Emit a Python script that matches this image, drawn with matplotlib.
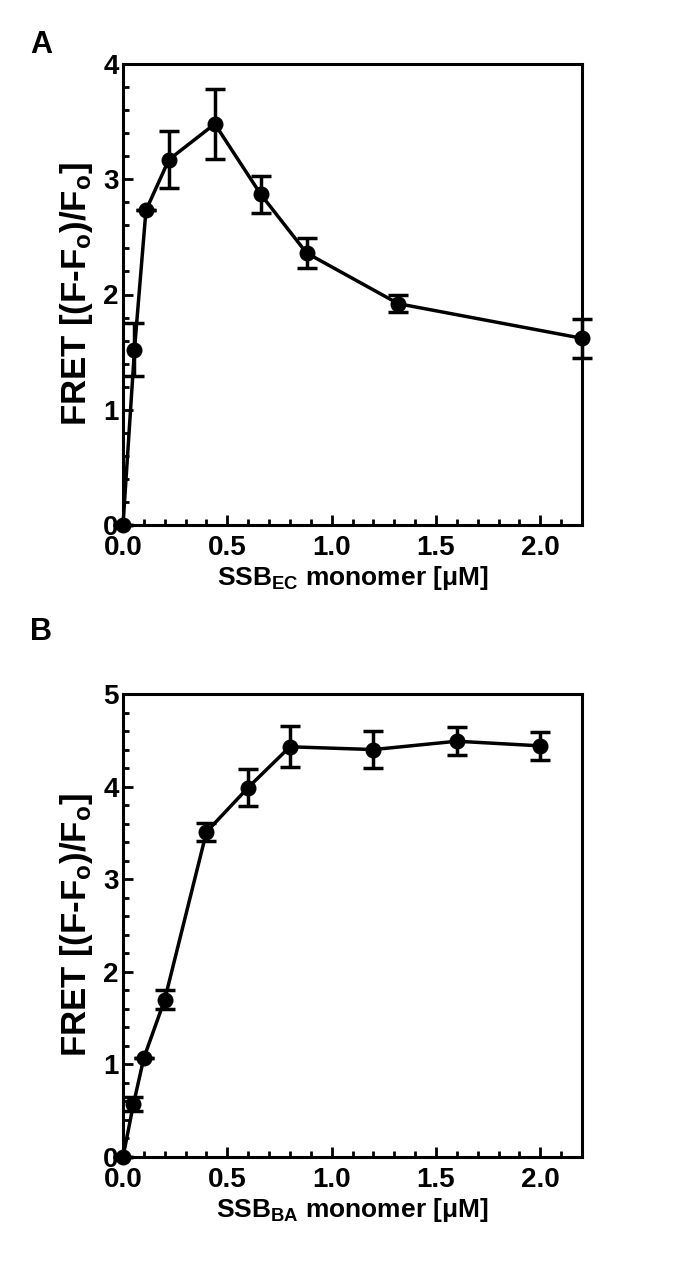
import numpy as np
import matplotlib
matplotlib.use("Agg")
import matplotlib.pyplot as plt
from matplotlib.ticker import MultipleLocator, FormatStrFormatter

# panel A: SSB_EC titration
conc_ec = [0.0, 0.055, 0.11, 0.22, 0.44, 0.66, 0.88, 1.32, 2.2]
fret_ec = [0.0, 1.52, 2.73, 3.17, 3.48, 2.87, 2.36, 1.92, 1.62]
err_ec = [0.0, 0.23, 0.0, 0.25, 0.30, 0.16, 0.13, 0.075, 0.17]

# panel B: SSB_BA titration
conc_ba = [0.0, 0.05, 0.1, 0.2, 0.4, 0.6, 0.8, 1.2, 1.6, 2.0]
fret_ba = [0.0, 0.57, 1.07, 1.70, 3.51, 3.99, 4.43, 4.40, 4.49, 4.44]
err_ba = [0.0, 0.075, 0.0, 0.10, 0.10, 0.20, 0.22, 0.20, 0.15, 0.15]

plt.rcParams['font.family'] = ['Liberation Sans', 'DejaVu Sans']
plt.rcParams['font.weight'] = 'bold'
plt.rcParams['mathtext.fontset'] = 'custom'
plt.rcParams['mathtext.rm'] = 'Liberation Sans:bold'
plt.rcParams['mathtext.it'] = 'Liberation Sans:bold'
plt.rcParams['mathtext.bf'] = 'Liberation Sans:bold'
plt.rcParams['mathtext.default'] = 'bf'

W, H = 685, 1277
fig = plt.figure(figsize=(W / 100, H / 100), dpi=100)
axA = fig.add_axes([123 / W, 1 - 525 / H, 459 / W, 461 / H])
axB = fig.add_axes([123 / W, 1 - 1157 / H, 459 / W, 463 / H])


def style(ax, ymax, xlabel):
    ax.set_xlim(0, 2.2)
    ax.set_ylim(0, ymax)
    ax.xaxis.set_major_locator(MultipleLocator(0.5))
    ax.xaxis.set_minor_locator(MultipleLocator(0.1))
    ax.yaxis.set_major_locator(MultipleLocator(1))
    ax.yaxis.set_minor_locator(MultipleLocator(0.2))
    ax.xaxis.set_major_formatter(FormatStrFormatter('%.1f'))
    ax.tick_params(which='both', direction='in', width=2, top=False, right=False)
    ax.tick_params(which='major', length=7.5)
    ax.tick_params(which='minor', length=4.5)
    ax.tick_params(axis='x', labelsize=20, pad=7)
    ax.tick_params(axis='y', labelsize=20, pad=3)
    for s in ax.spines.values():
        s.set_linewidth(2.2)
    ax.set_xlabel(xlabel, fontsize=19, fontweight='bold', labelpad=2)
    ax.set_ylabel(r'FRET [(F-F$_\mathrm{o}$)/F$_\mathrm{o}$]', fontsize=25,
                  fontweight='bold', labelpad=6)


for ax, x, y, e in [(axA, conc_ec, fret_ec, err_ec), (axB, conc_ba, fret_ba, err_ba)]:
    ax.errorbar(x, y, yerr=e, color='black', lw=2.5, marker='o', ms=10.5,
                elinewidth=2.5, capsize=7, capthick=2.5, clip_on=False, zorder=3)

style(axA, 4, r'SSB$_\mathrm{EC}$ monomer [$\mathbf{\mu}$M]')
style(axB, 5, r'SSB$_\mathrm{BA}$ monomer [$\mathbf{\mu}$M]')

fig.text(30 / W, 1 - 45 / H, 'A', fontsize=22, fontweight='bold', ha='left', va='center')
fig.text(30 / W, 1 - 632 / H, 'B', fontsize=22, fontweight='bold', ha='left', va='center')

fig.savefig('out.png', dpi=100)
